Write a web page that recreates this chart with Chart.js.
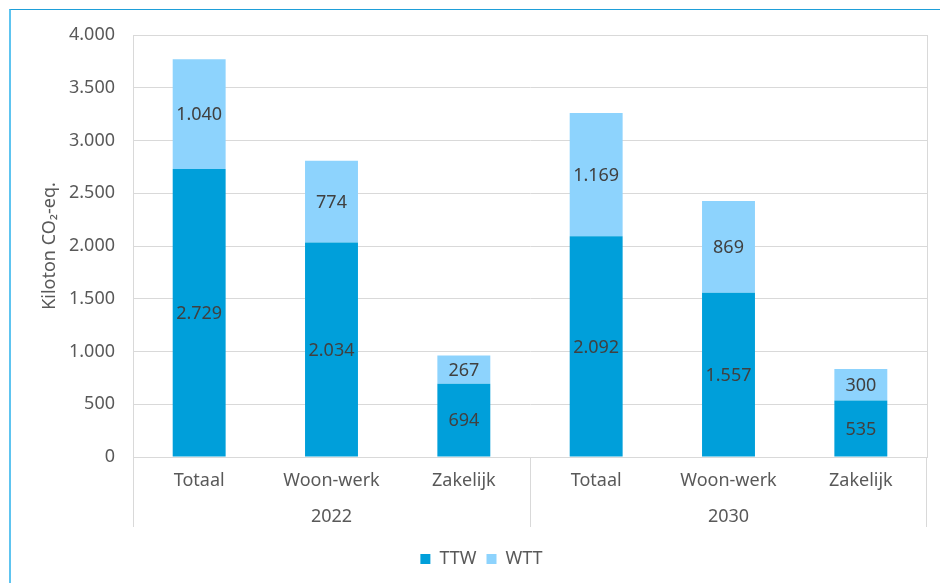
<!DOCTYPE html>
<html>
<head>
<meta charset="utf-8">
<script src="https://cdn.jsdelivr.net/npm/chart.js@4.4.1/dist/chart.umd.min.js"></script>
<style>
  html, body { margin: 0; padding: 0; background: #fff; }
  #wrap { position: relative; width: 940px; height: 583px; overflow: hidden; }
  #frame { position: absolute; left: 9px; top: 9px; width: 1000px; height: 1000px;
           border-left: 2px solid #5ec4f0; border-top: 1px solid #1e9fd9; }
  canvas { position: absolute; left: 0; top: 0; }
</style>
</head>
<body>
<div id="wrap">
  <div id="frame"></div>
  <canvas id="chart" width="940" height="583"></canvas>
</div>
<script>
const categories = ['Totaal', 'Woon-werk', 'Zakelijk'];
const years = ['2022', '2030'];
const ttw = [2729, 2034, 694, 2092, 1557, 535];
const wtt = [1040, 774, 267, 1169, 869, 300];
const yMax = 4000;
const yStep = 500;

const FONT = '"Noto Sans", sans-serif';
const GRID = '#d9d9d9';
const TEXT = '#595959';

// thousands with a dot, like the Dutch original
const fmt = n => String(n).replace(/\B(?=(\d{3})+(?!\d))/g, '.');

// two-line labels: the year sits under the middle category of its group
const mid = Math.floor(categories.length / 2);
const labels = [];
years.forEach(yr => {
    categories.forEach((c, i) => labels.push([c, i === mid ? yr : '']));
});

const barLabels = {
    id: 'barLabels',
    afterDatasetsDraw(chart) {
        const ctx = chart.ctx;
        ctx.save();
        ctx.font = '18px ' + FONT;
        ctx.fillStyle = '#404040';
        ctx.textAlign = 'center';
        ctx.textBaseline = 'middle';
        chart.data.datasets.forEach((ds, i) => {
            chart.getDatasetMeta(i).data.forEach((bar, j) => {
                const { x, y, base } = bar.getProps(['x', 'y', 'base'], true);
                ctx.fillText(fmt(ds.data[j]), x, (y + base) / 2 + 1);
            });
        });
        ctx.restore();
    }
};

const plotBox = {
    id: 'plotBox',
    beforeDatasetsDraw(chart) {
        const { left, top, right, bottom } = chart.chartArea;
        const ctx = chart.ctx;
        ctx.save();
        ctx.strokeStyle = GRID;
        ctx.lineWidth = 1;
        ctx.strokeRect(Math.round(left) + 0.5, Math.round(top) + 0.5,
                       Math.round(right - left), Math.round(bottom - top));
        ctx.restore();
    }
};

new Chart(document.getElementById('chart'), {
    type: 'bar',
    data: {
        labels: labels,
        datasets: [
            { label: 'TTW', data: ttw, backgroundColor: '#009fda' },
            { label: 'WTT', data: wtt, backgroundColor: '#8dd3fd' }
        ]
    },
    options: {
        responsive: false,
        animation: false,
        layout: { padding: { left: 36, right: 13, top: 35, bottom: 5 } },
        datasets: { bar: { categoryPercentage: 1, barPercentage: 0.4 } },
        scales: {
            x: {
                stacked: true,
                grid: {
                    offset: true,
                    drawOnChartArea: false,
                    tickLength: 70,
                    color: ctx => (ctx.index === undefined || ctx.index % categories.length === 0) ? GRID : 'rgba(0,0,0,0)'
                },
                border: { color: GRID },
                ticks: {
                    color: TEXT,
                    padding: -64,
                    maxRotation: 0,
                    autoSkip: false,
                    font: { family: FONT, size: 18, lineHeight: 2 }
                },
                afterFit: s => { s.height = 83; }
            },
            y: {
                stacked: true,
                min: 0,
                max: yMax,
                ticks: {
                    stepSize: yStep,
                    color: TEXT,
                    padding: 18,
                    font: { family: FONT, size: 18 },
                    callback: v => fmt(v)
                },
                grid: { color: GRID, drawTicks: false },
                border: { color: GRID },
                title: {
                    display: true,
                    text: 'Kiloton CO₂-eq.',
                    color: TEXT,
                    padding: { top: 3, bottom: 4 },
                    font: { family: FONT, size: 18 }
                },
                afterFit: s => { s.width = 97; }
            }
        },
        plugins: {
            legend: {
                position: 'bottom',
                labels: {
                    boxWidth: 10,
                    boxHeight: 10,
                    padding: 10,
                    color: TEXT,
                    font: { family: FONT, size: 18 }
                }
            },
            tooltip: { enabled: false }
        }
    },
    plugins: [plotBox, barLabels]
});
</script>
</body>
</html>
